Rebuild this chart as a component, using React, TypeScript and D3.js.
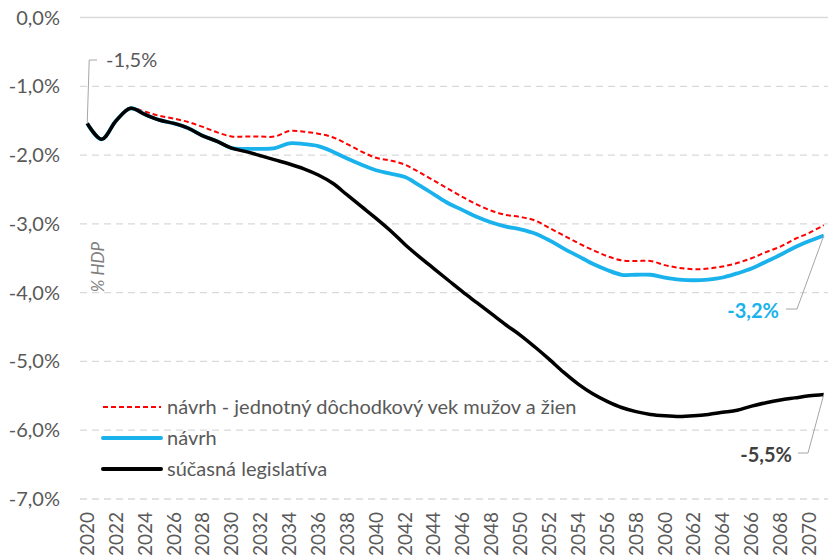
import React, { useEffect, useRef } from 'react';
import * as d3 from 'd3';

// roky 2020 - 2071
const years: number[] = d3.range(2020, 2072);

const sucasna: number[] = [
  -1.54, -1.77, -1.50, -1.32, -1.41, -1.49, -1.54, -1.61, -1.72, -1.80,
  -1.90, -1.95, -2.01, -2.07, -2.13, -2.20, -2.29, -2.41, -2.58, -2.75,
  -2.92, -3.10, -3.30, -3.48, -3.65, -3.82, -3.99, -4.15, -4.31, -4.47,
  -4.62, -4.79, -4.97, -5.16, -5.33, -5.47, -5.58, -5.67, -5.73, -5.77,
  -5.79, -5.80, -5.79, -5.77, -5.74, -5.71, -5.65, -5.60, -5.56, -5.53,
  -5.50, -5.48,
];

const navrh: number[] = [
  -1.54, -1.77, -1.50, -1.32, -1.41, -1.49, -1.54, -1.61, -1.72, -1.80,
  -1.90, -1.91, -1.91, -1.90, -1.83, -1.84, -1.87, -1.95, -2.05, -2.14,
  -2.22, -2.27, -2.32, -2.44, -2.57, -2.70, -2.80, -2.90, -2.98, -3.04,
  -3.08, -3.14, -3.24, -3.36, -3.47, -3.58, -3.67, -3.74, -3.74, -3.74,
  -3.78, -3.81, -3.82, -3.81, -3.78, -3.72, -3.65, -3.55, -3.45, -3.34,
  -3.25, -3.17,
];

const navrhVek: number[] = [
  -1.54, -1.77, -1.50, -1.32, -1.37, -1.43, -1.47, -1.52, -1.59, -1.67,
  -1.73, -1.73, -1.73, -1.73, -1.65, -1.66, -1.69, -1.74, -1.84, -1.95,
  -2.04, -2.08, -2.14, -2.25, -2.37, -2.49, -2.61, -2.72, -2.81, -2.87,
  -2.90, -2.95, -3.06, -3.17, -3.28, -3.38, -3.47, -3.53, -3.54, -3.54,
  -3.60, -3.64, -3.66, -3.65, -3.62, -3.57, -3.50, -3.41, -3.33, -3.22,
  -3.13, -3.02,
];

const yTicks: number[] = [0, -1, -2, -3, -4, -5, -6, -7];
const legendLabels: string[] = [
  'návrh - jednotný dôchodkový vek mužov a žien',
  'návrh',
  'súčasná legislatíva',
];

const fmt = (v: number) => v.toFixed(1).replace('.', ',') + '%';
const FONT = 'Lato, "Open Sans", sans-serif';

function App() {
  const ref = useRef<SVGSVGElement>(null);

  useEffect(() => {
    const svg = d3.select(ref.current);
    svg.selectAll('*').remove();

    const x = d3.scaleBand<number>().domain(years).range([80, 831]);
    const cx = (yr: number) => (x(yr) as number) + x.bandwidth() / 2;
    const y = d3.scaleLinear().domain([-7, 0]).range([499, 17.5]);

    // mriezka
    svg.append('g')
      .selectAll('line')
      .data(yTicks)
      .enter()
      .append('line')
      .attr('x1', 80)
      .attr('x2', 828)
      .attr('y1', (d) => y(d))
      .attr('y2', (d) => y(d))
      .attr('stroke', '#d9d9d9')
      .attr('stroke-width', 1.3)
      .attr('stroke-dasharray', (d) => (d === 0 ? null : '7,5'));

    // popisy osi y
    svg.append('g')
      .selectAll('text')
      .data(yTicks)
      .enter()
      .append('text')
      .attr('x', 60)
      .attr('y', (d) => y(d))
      .attr('dy', '0.35em')
      .attr('text-anchor', 'end')
      .attr('font-family', FONT)
      .attr('font-size', 20)
      .attr('fill', '#595959')
      .text((d) => fmt(d));

    // popisy osi x
    svg.append('g')
      .selectAll('text')
      .data(years.filter((yr) => yr % 2 === 0))
      .enter()
      .append('text')
      .attr('transform', (d) => `translate(${cx(d)},512) rotate(-90)`)
      .attr('dy', '0.35em')
      .attr('text-anchor', 'end')
      .attr('font-family', FONT)
      .attr('font-size', 19)
      .attr('fill', '#595959')
      .text((d) => d);

    // % HDP
    svg.append('text')
      .attr('transform', 'translate(98,267) rotate(-90)')
      .attr('dy', '0.35em')
      .attr('text-anchor', 'middle')
      .attr('font-family', FONT)
      .attr('font-style', 'italic')
      .attr('font-size', 17)
      .attr('fill', '#7f7f7f')
      .text('% HDP');

    const line = d3.line<number>()
      .x((d, i) => cx(years[i]))
      .y((d) => y(d))
      .curve(d3.curveCatmullRom.alpha(0.5));

    const series = [
      { data: navrhVek, color: '#ff0000', width: 2, dash: '5,3' },
      { data: navrh, color: '#1ab2ec', width: 3.8, dash: null },
      { data: sucasna, color: '#000000', width: 3.5, dash: null },
    ];

    series.forEach((s) => {
      svg.append('path')
        .datum(s.data)
        .attr('d', line)
        .attr('fill', 'none')
        .attr('stroke', s.color)
        .attr('stroke-width', s.width)
        .attr('stroke-dasharray', s.dash)
        .attr('stroke-linejoin', 'round');
    });

    // legenda
    const lg = svg.append('g');
    series.forEach((s, i) => {
      const ly = 407 + i * 31;
      lg.append('line')
        .attr('x1', 103)
        .attr('x2', 161)
        .attr('y1', ly)
        .attr('y2', ly)
        .attr('stroke', s.color)
        .attr('stroke-width', s.dash ? 2 : 4)
        .attr('stroke-dasharray', s.dash)
        .attr('stroke-linecap', s.dash ? 'butt' : 'round');
      lg.append('text')
        .attr('x', 167)
        .attr('y', ly)
        .attr('dy', '0.35em')
        .attr('font-family', FONT)
        .attr('font-size', 20)
        .attr('fill', '#595959')
        .text(legendLabels[i]);
    });

    // anotacie
    const first = years[0];
    const last = years[years.length - 1];
    const n = years.length - 1;

    svg.append('path')
      .attr('d', `M${cx(first)},${y(sucasna[0])} L${cx(first) + 2},60 L97,60`)
      .attr('fill', 'none')
      .attr('stroke', '#a6a6a6')
      .attr('stroke-width', 1);
    svg.append('text')
      .attr('x', 106)
      .attr('y', 60)
      .attr('dy', '0.35em')
      .attr('font-family', FONT)
      .attr('font-size', 20)
      .attr('fill', '#595959')
      .text(fmt(sucasna[0]));

    svg.append('path')
      .attr('d', `M${cx(last)},${y(navrh[n])} L797,309 L786,309`)
      .attr('fill', 'none')
      .attr('stroke', '#a6a6a6')
      .attr('stroke-width', 1);
    svg.append('text')
      .attr('x', 779)
      .attr('y', 311)
      .attr('dy', '0.35em')
      .attr('text-anchor', 'end')
      .attr('font-family', FONT)
      .attr('font-weight', 'bold')
      .attr('font-size', 20)
      .attr('fill', '#1ab2ec')
      .text(fmt(navrh[n]));

    svg.append('path')
      .attr('d', `M${cx(last)},${y(sucasna[n])} L808,453 L798,453`)
      .attr('fill', 'none')
      .attr('stroke', '#a6a6a6')
      .attr('stroke-width', 1);
    svg.append('text')
      .attr('x', 792)
      .attr('y', 455)
      .attr('dy', '0.35em')
      .attr('text-anchor', 'end')
      .attr('font-family', FONT)
      .attr('font-weight', 'bold')
      .attr('font-size', 20)
      .attr('fill', '#404040')
      .text(fmt(sucasna[n]));
  }, []);

  return (
    <div>
      <style>{'body{margin:0}'}</style>
      <svg ref={ref} width={828} height={558} style={{ display: 'block', background: '#fff' }} />
    </div>
  );
}

export default App;
